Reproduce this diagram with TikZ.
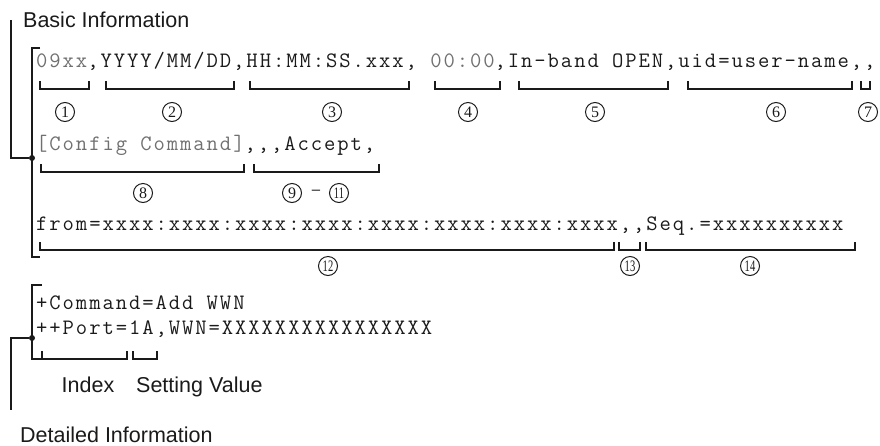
\documentclass[tikz,border=0pt]{standalone}
\usepackage{graphicx}
\usepackage{fontspec}
\setmainfont{Liberation Sans}
\newfontfamily\monofont[LetterSpace=8.8]{Latin Modern Mono}
\newfontfamily\numfont{Liberation Serif}
\definecolor{ink}{HTML}{1A1A1A}
\definecolor{txtgray}{HTML}{707070}
\newcommand\fieldbrk[3]{\draw[brk] (#1,#3-8) -- (#1,#3) -- (#2,#3) -- (#2,#3-8);}
\newcommand\twodig[1]{\scalebox{0.66}[1]{#1}}
\begin{document}
\begin{tikzpicture}[x=1pt,y=-1pt,
  mono/.style={font=\monofont\fontsize{22}{22}\selectfont, inner sep=0pt, anchor=base west, text=ink},
  sans/.style={font=\fontsize{21.5}{21.5}\selectfont, inner sep=0pt, anchor=base west, text=ink},
  brk/.style={line width=1.2pt, draw=ink},
  conn/.style={line width=1.4pt, draw=ink},
  num/.style={circle, draw=ink, line width=1pt, inner sep=0pt, minimum size=19pt, font=\numfont\fontsize{16}{16}\selectfont, text=ink},
  dotn/.style={circle, fill=ink, inner sep=0pt, minimum size=6pt}
]
\useasboundingbox (0,0) rectangle (880,445);

% headings
\node[sans] (basic) at (23,27) {Basic Information};
\node[sans] (detail) at (20,442) {Detailed Information};

% text lines
\node[mono] (l1) at (36,67) {{\color{txtgray}09xx},YYYY/MM/DD,HH:MM:SS.xxx, {\color{txtgray}00:00},In-band OPEN,uid=user-name,,};
\node[mono] (l2) at (36,150) {{\color{txtgray}[Config Command]},,,Accept,};
\node[mono] (l3) at (36,230) {from=xxxx:xxxx:xxxx:xxxx:xxxx:xxxx:xxxx:xxxx,,Seq.=xxxxxxxxxx};
\node[mono] (d1) at (36,309) {+Command=Add WWN};
\node[mono] (d2) at (36,334) {++Port=1A,WWN=XXXXXXXXXXXXXXXX};

% big brackets
\draw[conn] (40,48) -- (32,48) -- (32,257) -- (40,257);
\draw[conn] (42,285) -- (32,285) -- (32,359) -- (42,359);

% dots and connectors
\node[dotn] (bdot) at (32,158) {};
\node[dotn] (ddot) at (32,338) {};
\coordinate (btop) at (11,20);
\coordinate (dbot) at (11,410);
\draw[conn] (btop) |- (bdot);
\draw[conn] (ddot) -| (dbot);

% field brackets, line 1
\fieldbrk{40}{89}{89}
\fieldbrk{106}{234}{89}
\fieldbrk{250}{409}{89}
\fieldbrk{435}{500}{89}
\fieldbrk{519}{668}{89}
\fieldbrk{688}{852}{89}
\fieldbrk{861}{870}{89}
% line 2
\fieldbrk{41}{244}{172}
\fieldbrk{254}{379}{172}
% line 3
\fieldbrk{40}{614}{250}
\fieldbrk{619}{640}{250}
\fieldbrk{646}{855}{250}
% detail
\fieldbrk{42}{127}{359}
\fieldbrk{133}{157}{359}

% circled numbers
\node[num] (c1) at (65,112) {1};
\node[num] (c2) at (172,112) {2};
\node[num] (c3) at (332,112) {3};
\node[num] (c4) at (468,112) {4};
\node[num] (c5) at (595,112) {5};
\node[num] (c6) at (776,112) {6};
\node[num] (c7) at (868,112) {7};
\node[num] (c8) at (143,193) {8};
\node[num] (c9) at (292,193) {9};
\node[inner sep=0pt, font=\fontsize{15}{15}\selectfont, text=ink] (dash) at (316,192) {–};
\node[num] (c11) at (339,193) {\twodig{11}};
\node[num] (c12) at (328,266) {\twodig{12}};
\node[num] (c13) at (630,266) {\twodig{13}};
\node[num] (c14) at (750,266) {\twodig{14}};

% labels
\node[sans, anchor=base] (index) at (88,392) {Index};
\node[sans] (setval) at (136,392) {Setting Value};
\end{tikzpicture}
\end{document}
